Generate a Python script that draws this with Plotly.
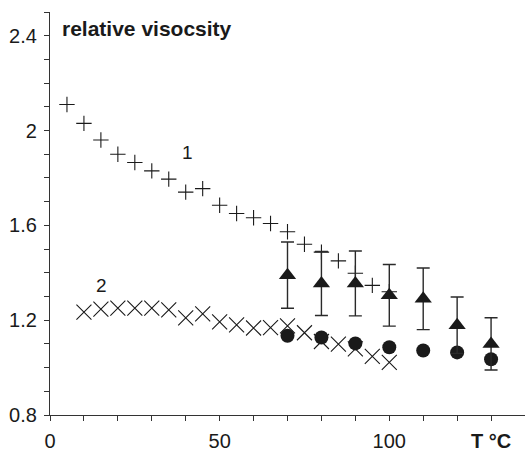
import plotly.graph_objects as go

# Relative viscosity versus temperature
t_series1 = [5, 10, 15, 20, 25, 30, 35, 40, 45, 50, 55, 60, 65, 70, 75, 80, 85, 90, 95, 100]
v_series1 = [2.11, 2.03, 1.96, 1.90, 1.865, 1.83, 1.795, 1.74, 1.755, 1.685, 1.65, 1.632,
             1.608, 1.573, 1.52, 1.487, 1.45, 1.398, 1.347, 1.32]

t_series2 = [10, 15, 20, 25, 30, 35, 40, 45, 50, 55, 60, 65, 70, 75, 80, 85, 90, 95, 100]
v_series2 = [1.234, 1.247, 1.251, 1.251, 1.251, 1.243, 1.21, 1.227, 1.193, 1.18, 1.167,
             1.169, 1.176, 1.147, 1.11, 1.099, 1.079, 1.047, 1.022]

t_meas = [70, 80, 90, 100, 110, 120, 130]
v_triangle = [1.39, 1.355, 1.355, 1.305, 1.29, 1.179, 1.10]
err_triangle = [0.14, 0.135, 0.137, 0.13, 0.13, 0.119, 0.11]
v_circle = [1.134, 1.127, 1.102, 1.086, 1.072, 1.064, 1.035]

x_tickvals = [0, 50, 100, 130]
x_ticktext = ["0", "50", "100", "<b>T °C</b>"]
y_tickvals = [0.8, 1.2, 1.6, 2.0, 2.4]
y_ticktext = ["0.8", "1.2", "1.6", "2", "2.4"]

INK = "#1a1a1a"
FONT = "Liberation Sans, Arial, sans-serif"

fig = go.Figure()

fig.add_trace(go.Scatter(
    x=t_series1, y=v_series1, mode="markers",
    marker=dict(symbol="cross-thin", size=11, line=dict(width=1.1, color=INK)),
    showlegend=False,
))
fig.add_trace(go.Scatter(
    x=t_series2, y=v_series2, mode="markers",
    marker=dict(symbol="x-thin", size=15, line=dict(width=1.1, color=INK)),
    showlegend=False,
))
fig.add_trace(go.Scatter(
    x=t_meas, y=v_circle, mode="markers",
    marker=dict(symbol="circle", size=14, color=INK, line=dict(width=0)),
    showlegend=False,
))
fig.add_trace(go.Scatter(
    x=t_meas, y=v_triangle, mode="markers",
    marker=dict(symbol="triangle-up", size=15, color=INK, line=dict(width=0)),
    error_y=dict(type="data", array=err_triangle, visible=True,
                 color="#2a2a2a", thickness=1.4, width=6.5),
    showlegend=False,
))

fig.add_annotation(x=40.6, y=1.908, text="1", showarrow=False,
                   font=dict(family=FONT, size=19, color=INK))
fig.add_annotation(x=15.2, y=1.346, text="2", showarrow=False,
                   font=dict(family=FONT, size=19, color=INK))
fig.add_annotation(xref="paper", yref="paper", x=0.022, y=0.958,
                   xanchor="left", yanchor="middle", showarrow=False,
                   text="<b>relative visocsity</b>",
                   font=dict(family=FONT, size=21, color=INK))

fig.update_xaxes(
    range=[0, 140], showgrid=False, zeroline=False,
    showline=True, linecolor="#333", linewidth=1.2,
    ticks="outside", ticklen=5, tickwidth=1, tickcolor="#333",
    tickvals=x_tickvals, ticktext=x_ticktext,
    tickfont=dict(family=FONT, size=20, color=INK),
    ticklabelstandoff=3,
    minor=dict(dtick=10, tick0=0, ticks="outside", ticklen=5, tickwidth=1, tickcolor="#333"),
)
fig.update_yaxes(
    range=[0.8, 2.5], showgrid=False, zeroline=False,
    showline=True, linecolor="#333", linewidth=1.2,
    ticks="outside", ticklen=5, tickwidth=1, tickcolor="#333",
    tickvals=y_tickvals, ticktext=y_ticktext,
    tickfont=dict(family=FONT, size=20, color=INK),
    ticklabelstandoff=3,
    minor=dict(dtick=0.1, tick0=0.8, ticks="outside", ticklen=5, tickwidth=1, tickcolor="#333"),
)

fig.update_layout(
    width=525, height=452,
    margin=dict(l=50, r=0, t=12, b=28),
    plot_bgcolor="white", paper_bgcolor="white",
)

fig.write_html("out.html")
